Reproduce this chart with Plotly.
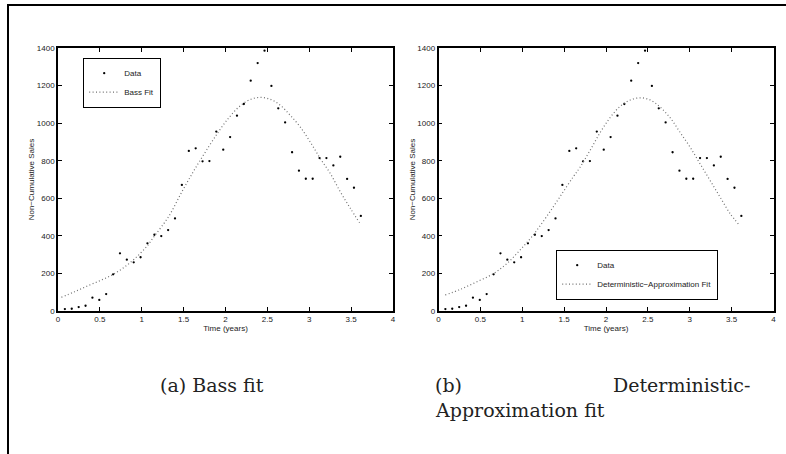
import plotly.graph_objects as go

W, H = 786, 454

# ---------------- data ----------------
time_years = [0.082, 0.164, 0.247, 0.329, 0.411, 0.493, 0.575, 0.658, 0.740, 0.822,
               0.904, 0.986, 1.068, 1.151, 1.233, 1.315, 1.397, 1.479, 1.562, 1.644,
               1.726, 1.808, 1.890, 1.973, 2.055, 2.137, 2.219, 2.301, 2.384, 2.466,
               2.548, 2.630, 2.712, 2.795, 2.877, 2.959, 3.041, 3.123, 3.205, 3.288,
               3.370, 3.452, 3.534, 3.616]
sales = [10, 12, 21, 28, 71, 59, 90, 195, 307, 273,
         259, 286, 360, 406, 399, 431, 493, 671, 852, 866,
         797, 798, 955, 859, 926, 1040, 1102, 1226, 1320, 1386,
         1198, 1079, 1004, 845, 747, 704, 704, 814, 814, 775,
         821, 703, 656, 506]

bass_t = [0.04, 0.20, 0.36, 0.52, 0.66, 0.80, 0.92, 1.06, 1.16, 1.32, 1.48, 1.64, 1.80, 1.93,
          2.05, 2.17, 2.29, 2.41, 2.53, 2.65, 2.77, 2.89, 3.01, 3.13, 3.25, 3.37, 3.49, 3.60]
bass_fit = [73, 103, 135, 165, 195, 236, 280, 344, 404, 502, 635, 760, 875, 963,
            1034, 1090, 1125, 1137, 1128, 1097, 1043, 981, 901, 813, 733, 635, 547, 470]

da_t = [0.08, 0.26, 0.46, 0.66, 0.82, 0.975, 1.13, 1.29, 1.45, 1.61, 1.69, 1.81, 1.93, 2.05,
        2.17, 2.29, 2.41, 2.53, 2.65, 2.77, 2.88, 3.00, 3.12, 3.24, 3.36, 3.48, 3.59]
da_fit = [85, 115, 156, 200, 254, 325, 404, 502, 608, 715, 765, 855, 950, 1030,
          1090, 1123, 1135, 1123, 1084, 1026, 954, 875, 786, 697, 608, 520, 458]

x_ticks = [0, 0.5, 1, 1.5, 2, 2.5, 3, 3.5, 4]
y_ticks = [0, 200, 400, 600, 800, 1000, 1200, 1400]

# ---------------- helpers ----------------
def px_x(p):
    return p / W

def px_y(p):
    return 1 - p / H

SANS = "Liberation Sans, Arial, Helvetica, sans-serif"
SERIF = "DejaVu Serif, serif"
DOT = "1px,2.4px"
FIT_COLOR = "#707070"

fig = go.Figure()

# left panel
fig.add_trace(go.Scatter(x=time_years, y=sales, mode="markers", name="Data",
                         marker=dict(size=2.3, color="black"),
                         xaxis="x", yaxis="y", legend="legend"))
fig.add_trace(go.Scatter(x=bass_t, y=bass_fit, mode="lines", name="Bass Fit",
                         line=dict(color=FIT_COLOR, width=1.2, dash=DOT, shape="spline"),
                         xaxis="x", yaxis="y", legend="legend"))
# right panel
fig.add_trace(go.Scatter(x=time_years, y=sales, mode="markers", name="Data",
                         marker=dict(size=2.3, color="black"),
                         xaxis="x2", yaxis="y2", legend="legend2"))
fig.add_trace(go.Scatter(x=da_t, y=da_fit, mode="lines", name="Deterministic\u2212Approximation Fit",
                         line=dict(color=FIT_COLOR, width=1.2, dash=DOT, shape="spline"),
                         xaxis="x2", yaxis="y2", legend="legend2"))

axis_common = dict(
    showgrid=False, zeroline=False, showline=True, linecolor="black", linewidth=1.5,
    mirror="allticks", ticks="inside", ticklen=4, tickwidth=1, tickcolor="black",
    tickfont=dict(family=SANS, size=8, color="#222"), automargin=False,
)

ydom = [px_y(311), px_y(48)]
title_font = dict(family=SANS, size=8, color="#222")
fig.update_layout(
    xaxis=dict(domain=[px_x(58), px_x(393)], range=[0, 4], tickvals=x_ticks,
               title=dict(text="Time (years)", font=title_font, standoff=2),
               anchor="y", **axis_common),
    yaxis=dict(domain=ydom, range=[0, 1400], tickvals=y_ticks,
               title=dict(text="Non\u2212Cumulative Sales", font=title_font, standoff=1),
               anchor="x", **axis_common),
    xaxis2=dict(domain=[px_x(438.5), px_x(773.5)], range=[0, 4], tickvals=x_ticks,
                title=dict(text="Time (years)", font=title_font, standoff=2),
                anchor="y2", **axis_common),
    yaxis2=dict(domain=ydom, range=[0, 1400], tickvals=y_ticks,
                title=dict(text="Non\u2212Cumulative Sales", font=title_font, standoff=1),
                anchor="x2", **axis_common),
    legend=dict(x=px_x(83), y=px_y(83), xanchor="left", yanchor="middle",
                bgcolor="white", bordercolor="black", borderwidth=1.2,
                font=dict(family=SANS, size=8, color="#222"), tracegroupgap=0),
    legend2=dict(x=px_x(556), y=px_y(275), xanchor="left", yanchor="middle",
                 bgcolor="white", bordercolor="black", borderwidth=1.2,
                 font=dict(family=SANS, size=8, color="#222"), tracegroupgap=0),
    width=W, height=H, margin=dict(l=0, r=0, t=0, b=0),
    paper_bgcolor="white", plot_bgcolor="white", template="none",
    showlegend=True,
)

# page frame (top and left rules)
fig.add_shape(type="line", xref="paper", yref="paper",
              x0=px_x(7), x1=1, y0=px_y(5), y1=px_y(5), line=dict(color="black", width=2))
fig.add_shape(type="line", xref="paper", yref="paper",
              x0=px_x(8), x1=px_x(8), y0=px_y(4), y1=0, line=dict(color="black", width=2))

# captions
cap_font = dict(family=SERIF, size=19, color="#222")
fig.add_annotation(text="(a) Bass fit", xref="paper", yref="paper", x=px_x(212), y=px_y(385),
                   xanchor="center", yanchor="middle", showarrow=False, font=cap_font)
fig.add_annotation(text="(b)", xref="paper", yref="paper", x=px_x(433), y=px_y(385),
                   xanchor="left", yanchor="middle", showarrow=False, font=cap_font)
fig.add_annotation(text="Deterministic-", xref="paper", yref="paper", x=px_x(752), y=px_y(385),
                   xanchor="right", yanchor="middle", showarrow=False, font=cap_font)
fig.add_annotation(text="Approximation fit", xref="paper", yref="paper", x=px_x(433), y=px_y(410),
                   xanchor="left", yanchor="middle", showarrow=False, font=cap_font)

fig.write_html("out.html", config=dict(displayModeBar=False))
